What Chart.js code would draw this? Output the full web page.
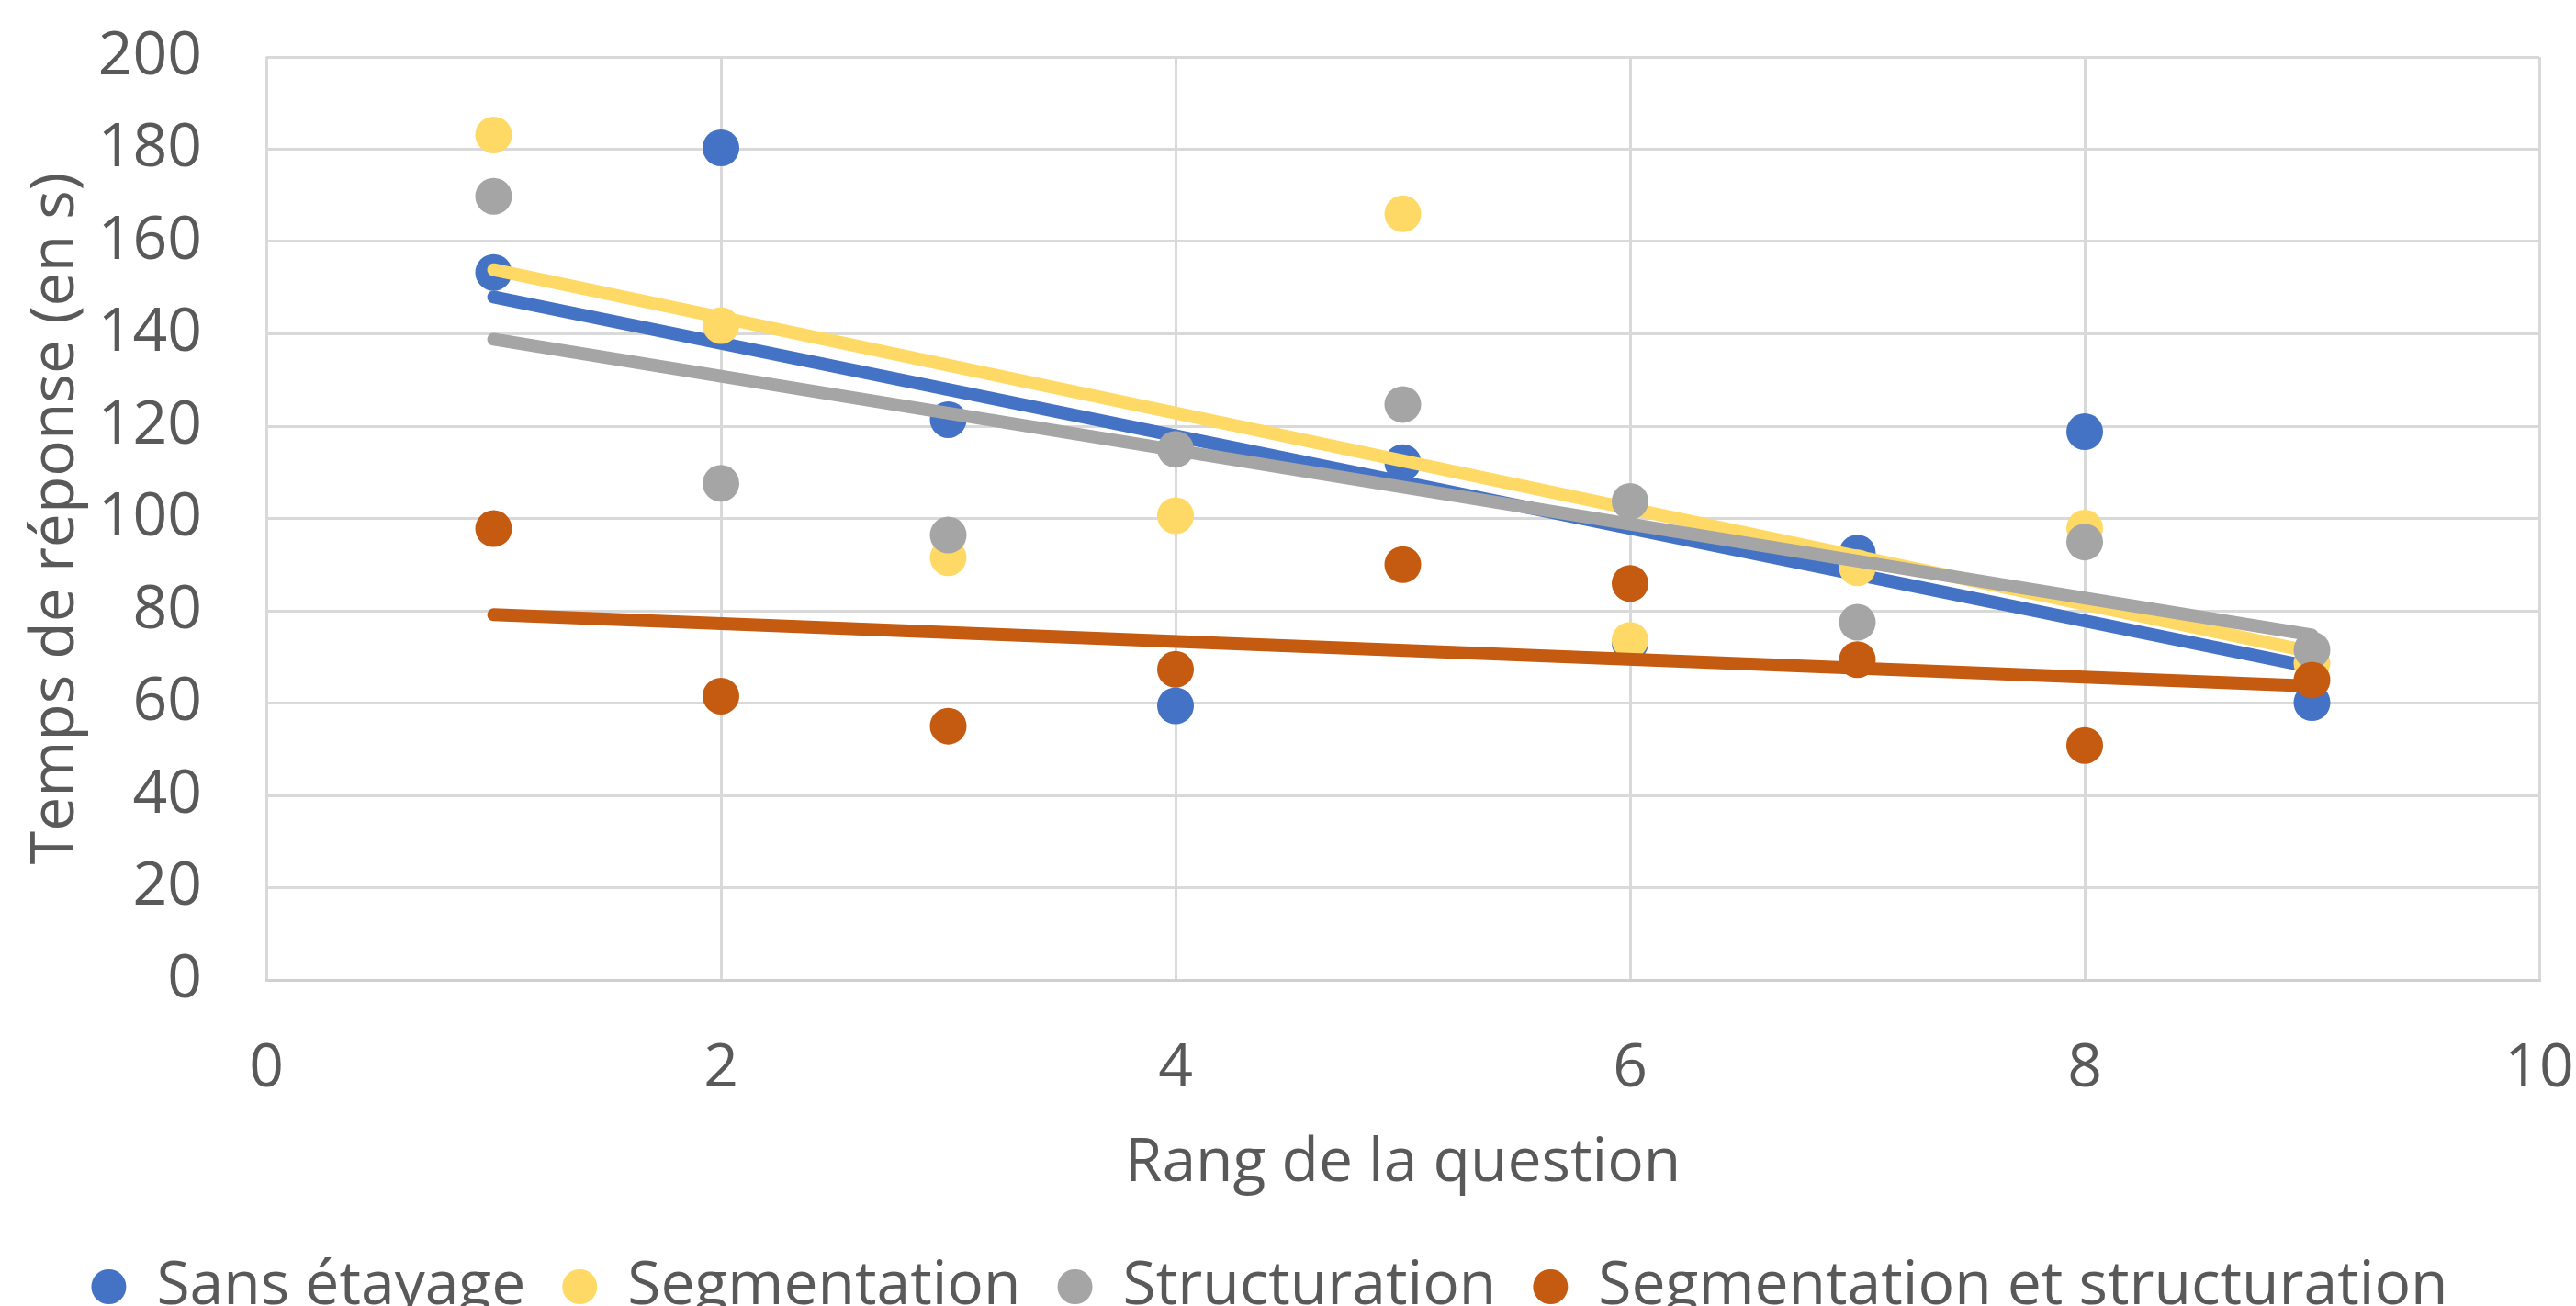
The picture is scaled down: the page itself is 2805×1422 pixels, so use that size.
<!DOCTYPE html>
<html>
<head>
<meta charset="utf-8">
<script src="https://cdn.jsdelivr.net/npm/chart.js@4"></script>
<style>
  html, body { margin: 0; padding: 0; background: #fff; }
  #wrap { width: 2805px; height: 1422px; }
</style>
</head>
<body>
<div id="wrap"><canvas id="chart" width="2805" height="1422"></canvas></div>
<script>
// Rang de la question
const rangs = [1, 2, 3, 4, 5, 6, 7, 8, 9];

// Temps de réponse (en s) par condition
const sansEtayage = [153.3, 180.3, 121.4, 59.4, 112.1, 73.0, 92.5, 118.8, 60.1];
const segmentation = [183.1, 141.8, 91.5, 100.6, 166.0, 73.6, 89.3, 97.9, 68.6];
const structuration = [169.8, 107.6, 96.4, 115.0, 124.7, 103.7, 77.5, 94.9, 71.5];
const segStruct = [97.8, 61.5, 55.0, 67.3, 90.0, 85.9, 69.4, 50.8, 65.0];

const noms = ['Sans étayage', 'Segmentation', 'Structuration', 'Segmentation et structuration'];
const couleurs = ['#4472C4', '#FFD966', '#A5A5A5', '#C55A11'];

const xTicks = [0, 2, 4, 6, 8, 10];
const yTicks = [0, 20, 40, 60, 80, 100, 120, 140, 160, 180, 200];

const POLICE = "'Open Sans', 'Noto Sans', sans-serif";
const TAILLE = 66;
const GRIS_TEXTE = '#595959';

// courbe de tendance linéaire (moindres carrés), comme Excel
function tendance(xs, ys) {
    const n = xs.length;
    const mx = xs.reduce((a, b) => a + b, 0) / n;
    const my = ys.reduce((a, b) => a + b, 0) / n;
    let num = 0, den = 0;
    xs.forEach((x, i) => { num += (x - mx) * (ys[i] - my); den += (x - mx) * (x - mx); });
    const pente = num / den;
    const x0 = xs[0], x1 = xs[n - 1];
    return [{ x: x0, y: my + pente * (x0 - mx) }, { x: x1, y: my + pente * (x1 - mx) }];
}

const series = [sansEtayage, segmentation, structuration, segStruct];
const datasets = [];

series.forEach((ys, i) => {
    // points puis tendance de chaque série, la suivante par-dessus
    datasets.push({
        label: noms[i],
        data: rangs.map((x, k) => ({ x: x, y: ys[k] })),
        backgroundColor: couleurs[i],
        borderColor: couleurs[i],
        pointRadius: 20,
        pointHoverRadius: 20,
        pointBorderWidth: 0,
        showLine: false,
        order: 8 - i * 2
    });
    datasets.push({
        label: 'tendance ' + noms[i],
        data: tendance(rangs, ys),
        borderColor: couleurs[i],
        backgroundColor: couleurs[i],
        borderWidth: 14,
        borderCapStyle: 'round',
        pointRadius: 0,
        showLine: true,
        isTrend: true,
        order: 7 - i * 2
    });
});

new Chart(document.getElementById('chart').getContext('2d'), {
    type: 'scatter',
    data: { datasets: datasets },
    options: {
        responsive: false,
        devicePixelRatio: 1,
        animation: false,
        layout: { padding: { top: 62, right: 40, left: 0, bottom: -22 } },
        plugins: {
            tooltip: { enabled: false },
            legend: {
                position: 'bottom',
                labels: {
                    filter: item => !datasets[item.datasetIndex].isTrend,
                    sort: (a, b) => a.datasetIndex - b.datasetIndex,
                    usePointStyle: true,
                    pointStyle: 'circle',
                    pointStyleWidth: 38,
                    boxHeight: 27,
                    padding: 40,
                    color: GRIS_TEXTE,
                    font: { family: POLICE, size: TAILLE }
                }
            }
        },
        scales: {
            x: {
                type: 'linear',
                min: 0, max: 10,
                afterBuildTicks: s => { s.ticks = xTicks.map(v => ({ value: v })); },
                afterFit: s => { s.height = 261; s.paddingLeft = 0; s.paddingRight = 0; },
                grid: { color: '#D9D9D9', lineWidth: 3, drawTicks: false },
                border: { color: '#D0D0D0', width: 3 },
                ticks: { color: GRIS_TEXTE, padding: 58, font: { family: POLICE, size: TAILLE } },
                title: {
                    display: true,
                    text: 'Rang de la question',
                    color: GRIS_TEXTE,
                    padding: { top: 0, bottom: 21 },
                    font: { family: POLICE, size: TAILLE }
                }
            },
            y: {
                type: 'linear',
                min: 0, max: 200,
                afterBuildTicks: s => { s.ticks = yTicks.map(v => ({ value: v })); },
                afterFit: s => { s.width = 290; s.paddingTop = 0; s.paddingBottom = 0; },
                grid: { color: '#D9D9D9', lineWidth: 3, drawTicks: false },
                border: { display: false },
                ticks: { color: GRIS_TEXTE, padding: 70, font: { family: POLICE, size: TAILLE } },
                title: {
                    display: true,
                    text: 'Temps de réponse (en s)',
                    color: GRIS_TEXTE,
                    padding: { top: 22, bottom: 0 },
                    font: { family: POLICE, size: TAILLE }
                }
            }
        }
    }
});
</script>
</body>
</html>
